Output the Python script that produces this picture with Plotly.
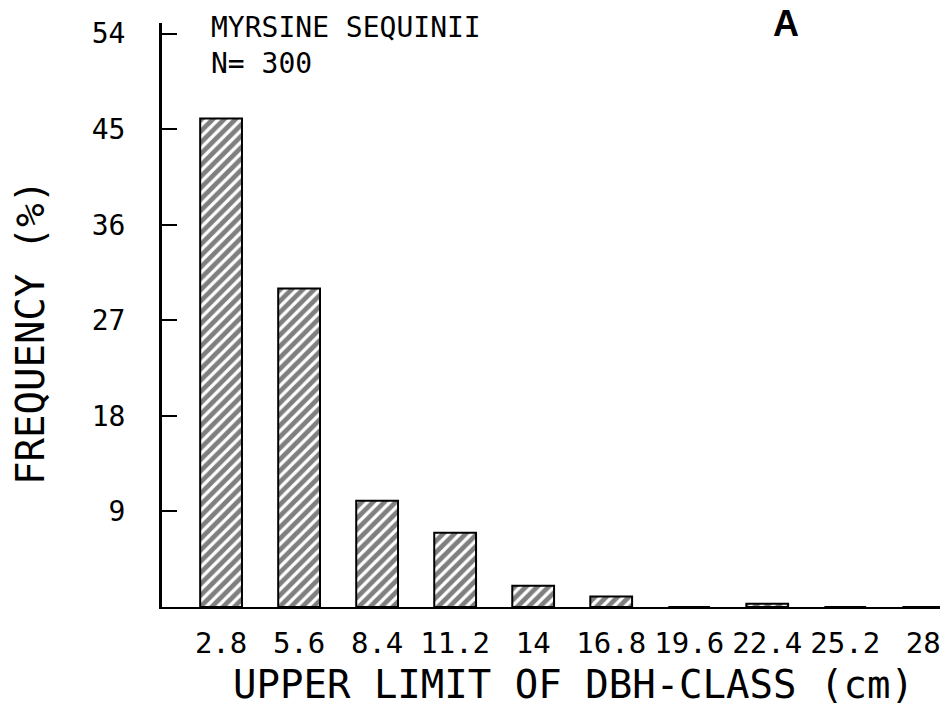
import plotly.graph_objects as go

# DBH class upper limits (cm) and frequency (%) per class
dbh_upper = [2.8, 5.6, 8.4, 11.2, 14.0, 16.8, 19.6, 22.4, 25.2, 28.0]
tick_text = ["2.8", "5.6", "8.4", "11.2", "14", "16.8", "19.6", "22.4", "25.2", "28"]
frequency = [46.0, 30.0, 10.0, 7.0, 2.0, 1.0, 0.0, 0.3, 0.0, 0.0]
y_ticks = [9, 18, 27, 36, 45, 54]

MONO = "DejaVu Sans Mono"
PLOT_L, PLOT_R, PLOT_T, PLOT_B = 162, 940, 23, 607


def px_x(x):
    return (x - PLOT_L) / (PLOT_R - PLOT_L)


def px_y(y):
    return (PLOT_B - y) / (PLOT_B - PLOT_T)


fig = go.Figure()
fig.add_trace(go.Bar(
    x=dbh_upper,
    y=frequency,
    width=1.5,
    marker=dict(
        color="white",
        line=dict(color="black", width=2),
        pattern=dict(shape="/", fgcolor="black", bgcolor="white",
                     size=8, solidity=0.6),
    ),
    showlegend=False,
))

fig.update_layout(
    width=947, height=726,
    margin=dict(l=PLOT_L, r=947 - PLOT_R, t=PLOT_T, b=726 - PLOT_B),
    paper_bgcolor="white", plot_bgcolor="white",
    font=dict(family=MONO, color="black"),
    xaxis=dict(
        range=[0.68, 28.6],
        tickvals=dbh_upper, ticktext=tick_text,
        ticks="outside", ticklen=9, tickcolor="rgba(0,0,0,0)",
        tickfont=dict(family=MONO, size=29),
        showline=True, linecolor="black", linewidth=2,
        showgrid=False, zeroline=False,
    ),
    yaxis=dict(
        range=[0, 55],
        tickvals=y_ticks,
        ticks="inside", ticklen=15, tickwidth=2, tickcolor="black",
        ticklabelstandoff=28,
        tickfont=dict(family=MONO, size=28),
        showline=True, linecolor="black", linewidth=3,
        showgrid=False, zeroline=False,
    ),
    annotations=[
        dict(text="MYRSINE SEQUINII<br>N= 300", xref="paper", yref="paper",
             x=px_x(210), y=px_y(10), xanchor="left", yanchor="top",
             align="left", borderpad=0, showarrow=False,
             font=dict(family=MONO, size=28)),
        dict(text="<b>A</b>", xref="paper", yref="paper",
             x=px_x(786), y=px_y(24),
             xanchor="center", yanchor="middle", showarrow=False,
             font=dict(family="Liberation Sans", size=36)),
        dict(text="UPPER LIMIT OF DBH-CLASS (cm)", xref="paper", yref="paper",
             x=px_x(573), y=px_y(684),
             xanchor="center", yanchor="middle", showarrow=False,
             font=dict(family=MONO, size=39)),
        dict(text="FREQUENCY (%)", xref="paper", yref="paper",
             x=px_x(30), y=px_y(333), textangle=-90,
             xanchor="center", yanchor="middle", showarrow=False,
             font=dict(family=MONO, size=39)),
    ],
)

fig.write_html("out.html")
